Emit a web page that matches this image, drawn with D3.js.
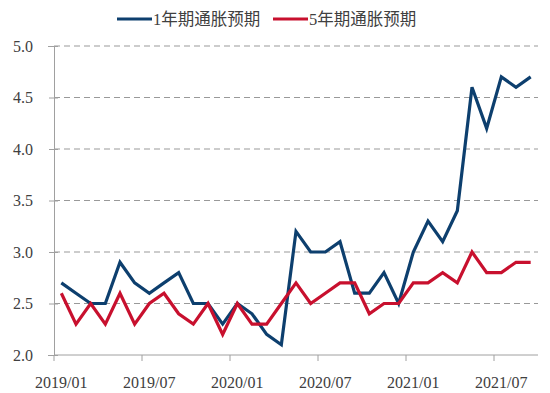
<!DOCTYPE html>
<html><head><meta charset="utf-8">
<script src="https://cdn.jsdelivr.net/npm/d3@7"></script>
<style>
html,body{margin:0;padding:0;background:#fff;}
svg{display:block;}
</style></head>
<body>
<svg id="c" width="550" height="393"></svg>
<script>
const months = [];
for (let y = 2019; y <= 2021; y++) for (let m = 1; m <= 12; m++) {
  if (y === 2021 && m > 9) break;
  months.push(y + "/" + String(m).padStart(2, "0"));
}
const oneYear = [2.7,2.6,2.5,2.5,2.9,2.7,2.6,2.7,2.8,2.5,2.5,2.3,2.5,2.4,2.2,2.1,3.2,3.0,3.0,3.1,2.6,2.6,2.8,2.5,3.0,3.3,3.1,3.4,4.6,4.2,4.7,4.6,4.7];
const fiveYear = [2.6,2.3,2.5,2.3,2.6,2.3,2.5,2.6,2.4,2.3,2.5,2.2,2.5,2.3,2.3,2.5,2.7,2.5,2.6,2.7,2.7,2.4,2.5,2.5,2.7,2.7,2.8,2.7,3.0,2.8,2.8,2.9,2.9];
const yTicks = [2.0,2.5,3.0,3.5,4.0,4.5,5.0];
const xLabels = ["2019/01","2019/07","2020/01","2020/07","2021/01","2021/07"];
const seriesNames = ["1年期通胀预期","5年期通胀预期"];
const colors = ["#0d3f6e","#c8102e"];
const FONT = "'Liberation Serif','Noto Sans CJK SC',serif";

const svg = d3.select("#c");
const x = d3.scaleBand().domain(months).range([54, 538]).padding(0);
const y = d3.scaleLinear().domain([2, 5]).range([355, 46]);

// gridlines
svg.append("g").selectAll("line").data(yTicks.filter(d => d > 2)).join("line")
  .attr("x1", 54).attr("x2", 538)
  .attr("y1", d => y(d)).attr("y2", d => y(d))
  .attr("stroke", "#999").attr("stroke-width", 1).attr("stroke-dasharray", "6,4");

// y axis
const yAxis = d3.axisLeft(y).tickValues(yTicks).tickFormat(d3.format(".1f")).tickSize(6).tickPadding(15);
const gy = svg.append("g").attr("transform", "translate(54,0)").call(yAxis);
gy.attr("font-family", FONT);
gy.select(".domain").attr("stroke", "#a0a0a0");
gy.selectAll(".tick line").attr("stroke", "#a0a0a0").attr("x2", 4).attr("x1", -5);
gy.selectAll(".tick text").attr("font-size", 16).attr("fill", "#404040")
  .style("font-family", FONT);

// x axis
svg.append("line").attr("x1", 54).attr("x2", 538).attr("y1", 355).attr("y2", 355).attr("stroke", "#a0a0a0");
svg.append("g").selectAll("line").data(xLabels).join("line")
  .attr("x1", d => x(d)).attr("x2", d => x(d))
  .attr("y1", 355).attr("y2", 361).attr("stroke", "#a0a0a0");
svg.append("g").selectAll("text").data(xLabels).join("text")
  .attr("x", d => x(d) + x.bandwidth() / 2).attr("y", 388)
  .attr("text-anchor", "middle").attr("font-size", 16).attr("fill", "#404040")
  .style("font-family", FONT)
  .text(d => d);

// lines
const line = d3.line().x((d, i) => x(months[i]) + x.bandwidth() / 2).y(d => y(d));
[oneYear, fiveYear].forEach((s, k) => {
  svg.append("path").datum(s).attr("d", line)
    .attr("fill", "none").attr("stroke", colors[k]).attr("stroke-width", 3.2)
    .attr("stroke-linejoin", "miter").attr("stroke-miterlimit", 4);
});

// legend
const legendX = [117, 273];
seriesNames.forEach((n, k) => {
  const g = svg.append("g").attr("transform", `translate(${legendX[k]},19)`);
  g.append("line").attr("x1", 0).attr("x2", 35).attr("y1", 0).attr("y2", 0)
    .attr("stroke", colors[k]).attr("stroke-width", 3);
  g.append("text").attr("x", 36).attr("y", 6).attr("font-size", 16.5).attr("fill", "#404040")
    .style("font-family", FONT)
    .text(n);
});
</script>
</body></html>
